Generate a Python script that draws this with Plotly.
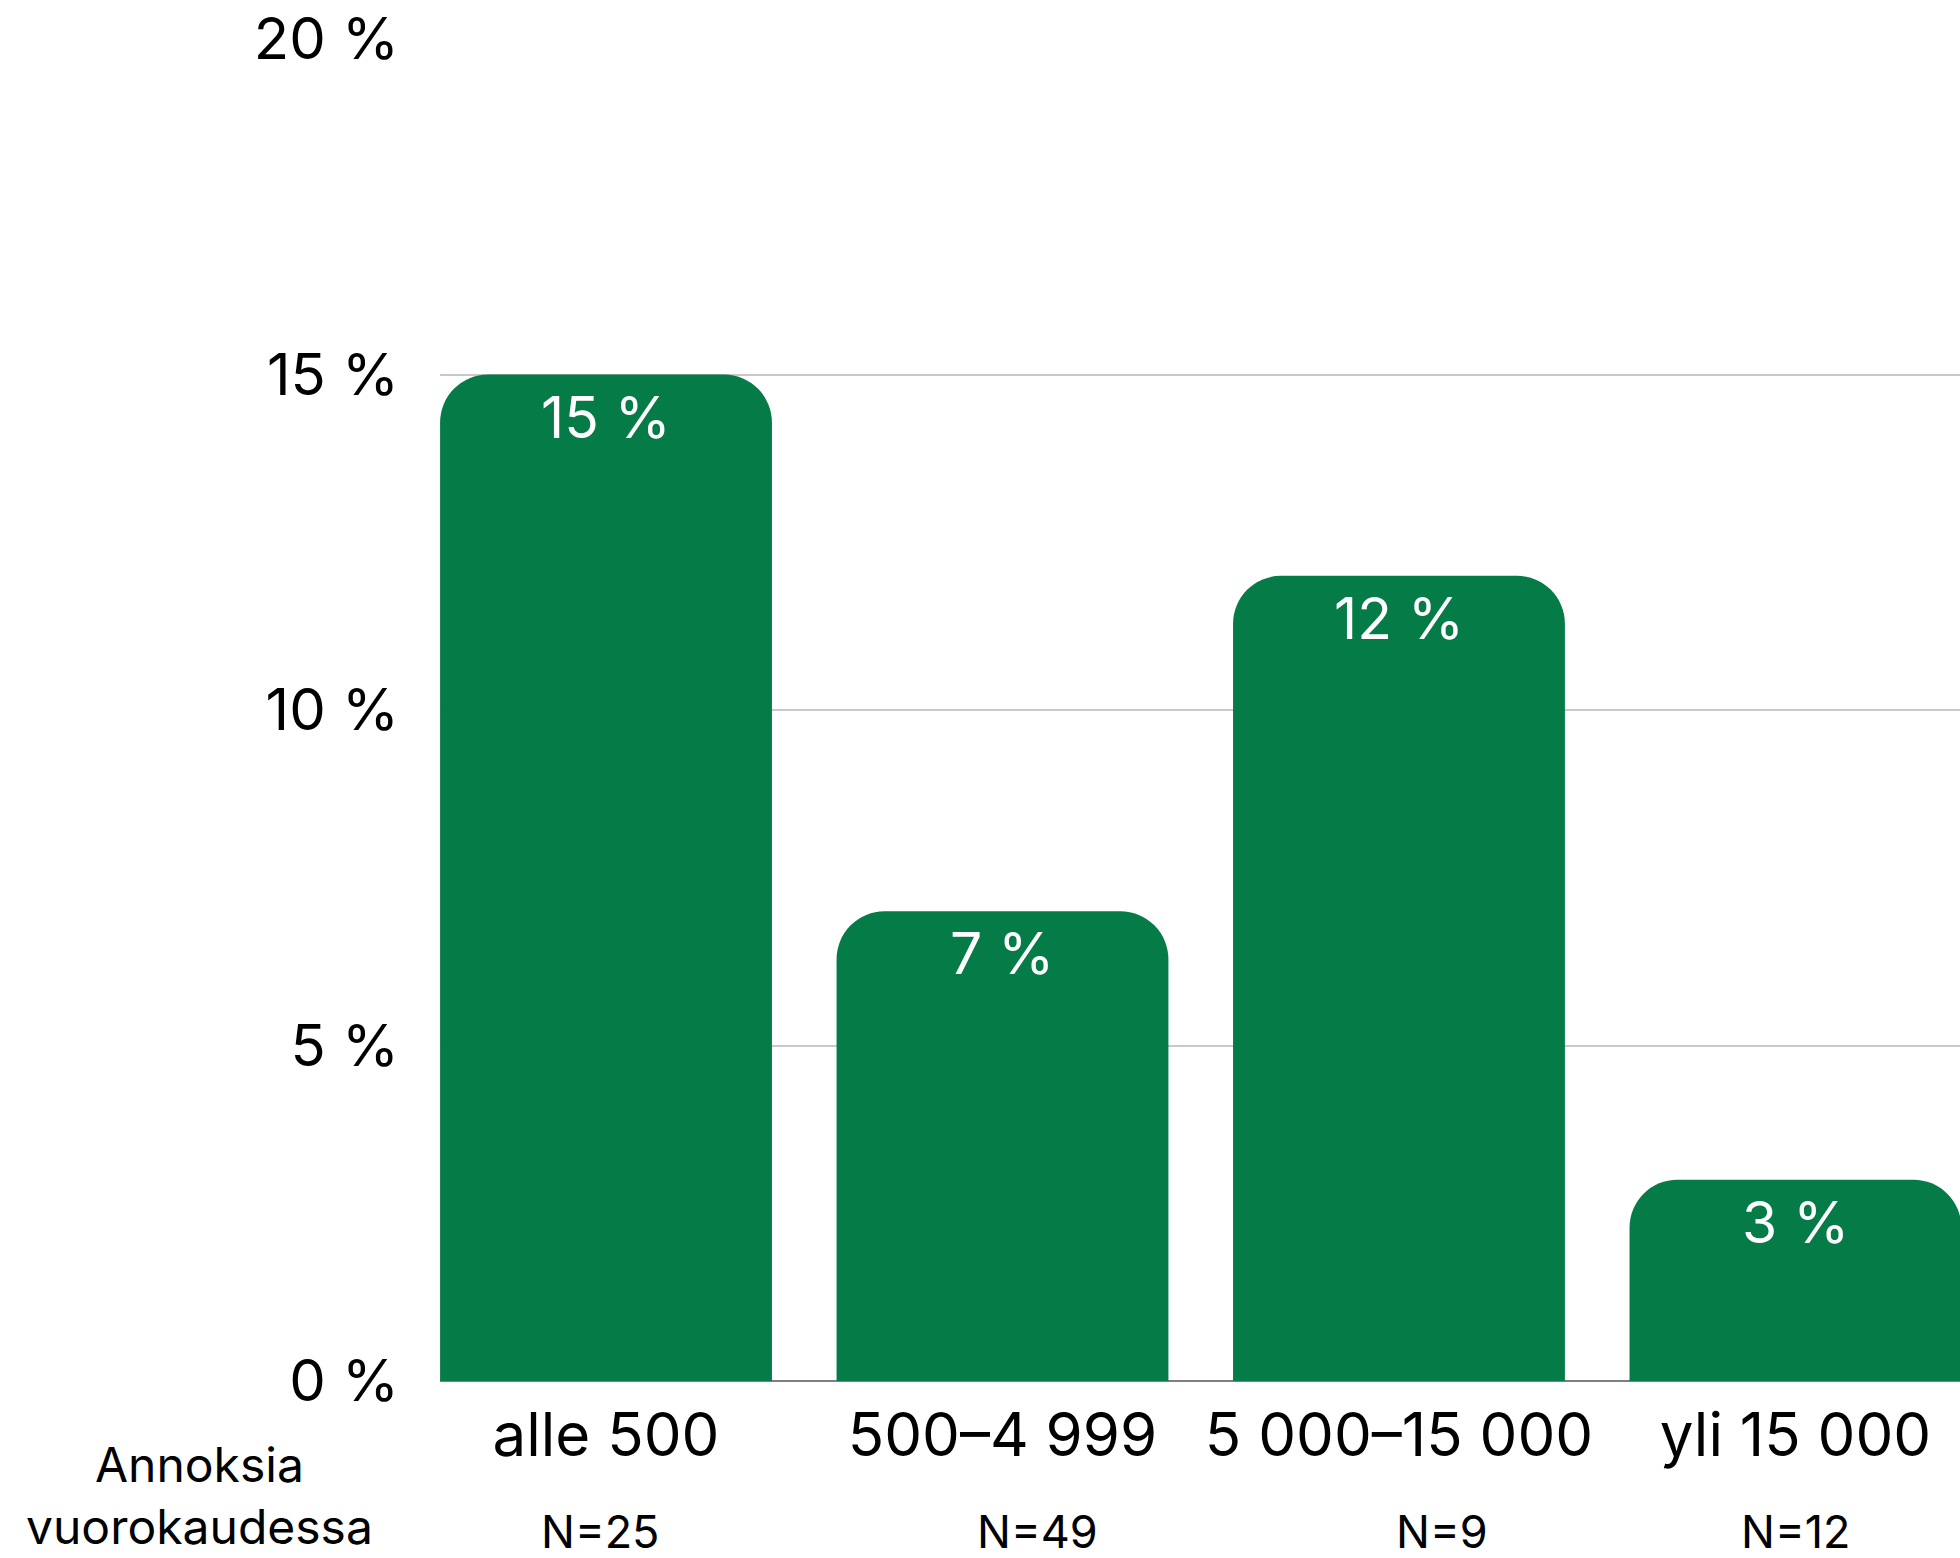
import plotly.graph_objects as go

categories = ["alle 500", "500\u20134 999", "5 000\u201315 000", "yli 15 000"]
values = [15, 7, 12, 3]
n_labels = ["N=25", "N=49", "N=9", "N=12"]
y_ticks = [0, 5, 10, 15, 20]
axis_title = "Annoksia<br>vuorokaudessa"

FONT = "Inter"
GREEN = "#057B47"

fig = go.Figure(
    go.Bar(
        x=categories,
        y=values,
        marker=dict(color=GREEN, line=dict(width=0)),
        hoverinfo="skip",
    )
)

# value labels inside the top of each bar
for cat, v in zip(categories, values):
    fig.add_annotation(
        x=cat, xref="x", y=v, yref="y",
        text=f"{v} %", showarrow=False,
        xanchor="center", yanchor="top", yshift=-6,
        font=dict(family=FONT, size=57, color="white"),
    )

fig.update_layout(
    width=1960,
    height=1558,
    margin=dict(l=440, r=0, t=39, b=177),
    paper_bgcolor="white",
    plot_bgcolor="white",
    bargap=0.163,
    barcornerradius=48,
    showlegend=False,
    font=dict(family=FONT, color="black"),
)

fig.update_xaxes(
    range=[-0.4187, 3.415],
    tickangle=0,
    tickfont=dict(family=FONT, size=60, color="black"),
    showgrid=False,
    showline=False,
    ticks="",
    ticklabelstandoff=14,
)

fig.update_yaxes(
    range=[0, 20],
    tickvals=y_ticks,
    ticktext=[f"{v} %" for v in y_ticks],
    tickfont=dict(family=FONT, size=58, color="black"),
    showgrid=True,
    gridcolor="#c8c8c8",
    gridwidth=1.5,
    zeroline=True,
    zerolinecolor="#7f7f7f",
    zerolinewidth=2,
    showline=False,
    ticks="",
    ticklabelstandoff=40,
)

label_shifts = [-6, 35, 43, 0]
for cat, lab, sh in zip(categories, n_labels, label_shifts):
    fig.add_annotation(
        x=cat, xref="x", y=-0.1118, yref="paper",
        text=lab, showarrow=False, xshift=sh,
        xanchor="center", yanchor="middle",
        font=dict(family=FONT, size=45, color="black"),
    )

fig.add_annotation(
    x=-0.158, xref="paper", y=-0.039, yref="paper",
    text=axis_title, showarrow=False,
    xanchor="center", yanchor="top", align="center",
    font=dict(family=FONT, size=48, color="black"),
)

fig.write_html(
    "out.html",
    config={"displayModeBar": False},
    post_script="document.body.style.margin='0';",
)
